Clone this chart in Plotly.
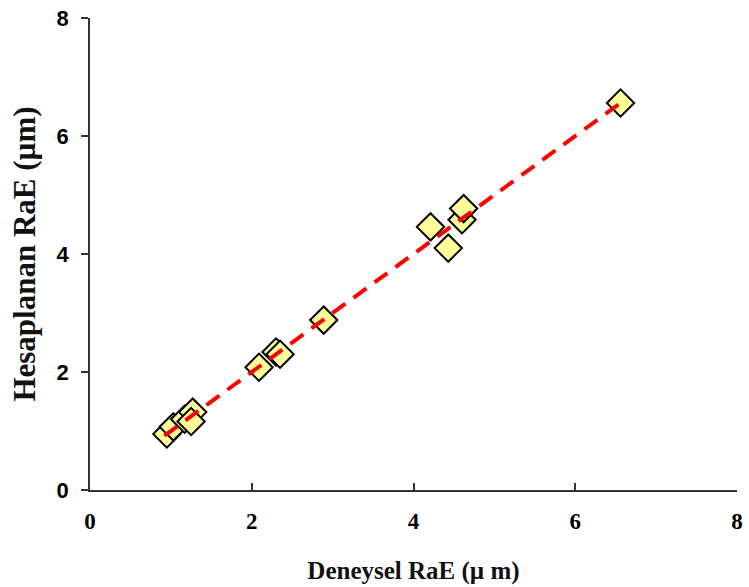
import plotly.graph_objects as go

deneysel = [0.95, 1.03, 1.17, 1.27, 1.25, 2.09, 2.30, 2.35, 2.89, 4.21, 4.43, 4.60, 4.62, 6.56]
hesaplanan = [0.95, 1.07, 1.20, 1.32, 1.16, 2.08, 2.34, 2.30, 2.88, 4.46, 4.10, 4.58, 4.77, 6.56]
fit_x = [0.92, 6.56]
fit_y = [0.92, 6.56]

fig = go.Figure()
fig.add_trace(go.Scatter(x=deneysel, y=hesaplanan, mode="markers",
                         marker=dict(symbol="diamond", size=21, color="#FFFF99",
                                     line=dict(color="black", width=2)), showlegend=False))
fig.add_trace(go.Scatter(x=fit_x, y=fit_y, mode="lines",
                         line=dict(color="#FF0000", width=4, dash="16px,10px"), showlegend=False))

fig.update_layout(
    width=749, height=587,
    margin=dict(l=90, r=6, t=18, b=97),
    plot_bgcolor="white", paper_bgcolor="white",
    xaxis=dict(range=[0, 8], tickvals=[0, 2, 4, 6, 8], showgrid=False, zeroline=False,
               showline=True, linecolor="#333", linewidth=1.5,
               ticks="inside", ticklen=7, tickcolor="#333", tickwidth=1.5,
               ticklabelstandoff=10,
               tickfont=dict(family="Liberation Serif", size=23, color="black", weight="bold"),
               title=dict(text="<b>Deneysel RaE (µ m)</b>", standoff=28,
                          font=dict(family="Liberation Serif", size=25, color="#111"))),
    yaxis=dict(range=[0, 8], tickvals=[0, 2, 4, 6, 8], showgrid=False, zeroline=False,
               showline=True, linecolor="#333", linewidth=1.5,
               ticks="outside", ticklen=7, tickcolor="#333", tickwidth=1.5,
               ticklabelstandoff=8,
               tickfont=dict(family="Liberation Sans", size=22, color="black", weight="bold"),
               title=dict(text="<b>Hesaplanan RaE (µm)</b>", standoff=12,
                          font=dict(family="Liberation Serif", size=31, color="#111"))),
)
fig.write_html("out.html")
